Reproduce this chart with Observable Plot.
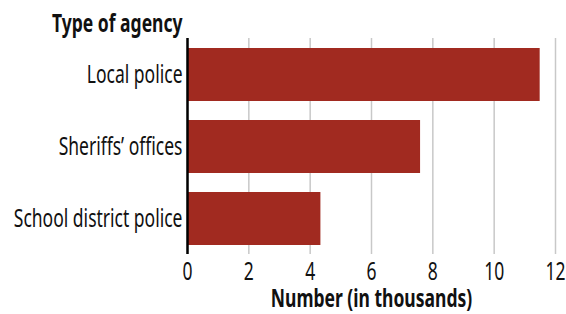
<!DOCTYPE html>
<html>
<head>
<meta charset="utf-8">
<script src="https://cdn.jsdelivr.net/npm/d3@7"></script>
<script src="https://cdn.jsdelivr.net/npm/@observablehq/plot@0.6"></script>
<style>
  html, body { margin: 0; padding: 0; background: #fff; }
  #chart svg { display: block; }
</style>
</head>
<body>
<div id="chart"></div>
<script>
const agencies = ["Local police", "Sheriffs\u2019 offices", "School district police"];
const counts = [11.5, 7.6, 4.35];
const xTicks = [0, 2, 4, 6, 8, 10, 12];
const yTitle = "Type of agency";
const xTitle = "Number (in thousands)";

const data = agencies.map((a, i) => ({agency: a, count: counts[i]}));
const FONT = "'Noto Sans', 'Open Sans', sans-serif";
const FS = 25;        // font size
const SQUEEZE = 0.7;  // horizontal condensation to mimic a condensed face

const chart = Plot.plot({
  width: 566,
  height: 314,
  marginLeft: 187,
  marginRight: 11,
  marginTop: 38,
  marginBottom: 60,
  style: {fontFamily: FONT, fontSize: FS + "px", color: "#111", background: "#fff"},
  x: {domain: [0, 12], ticks: xTicks},
  y: {domain: agencies, paddingInner: 0.27, paddingOuter: 0.135},
  marks: [
    Plot.gridX(xTicks, {stroke: "#c8c8c8", strokeOpacity: 1, strokeWidth: 1.5}),
    Plot.barX(data, {x: "count", y: "agency", fill: "#a12a20"}),
    Plot.ruleX([0], {stroke: "#000", strokeWidth: 2.5}),
    Plot.axisX(xTicks, {tickSize: 0, tickPadding: 8, label: null, fontSize: FS}),
    Plot.axisY({tickSize: 0, tickPadding: 5, label: null, fontSize: FS}),
    Plot.text([yTitle], {frameAnchor: "top-left", textAnchor: "end", lineAnchor: "bottom", dx: -5, dy: -7, fontWeight: "bold", fontSize: FS, fill: "#111"}),
    Plot.text([xTitle], {frameAnchor: "bottom", lineAnchor: "bottom", dy: 52, fontWeight: "bold", fontSize: FS, fill: "#111"})
  ]
});
document.getElementById("chart").appendChild(chart);

// condense every label horizontally (the reference uses a condensed typeface)
chart.querySelectorAll("text").forEach(t => {
  const len = t.getComputedTextLength();
  if (len > 0) {
    t.setAttribute("textLength", (len * SQUEEZE).toFixed(2));
    t.setAttribute("lengthAdjust", "spacingAndGlyphs");
  }
});
</script>
</body>
</html>
